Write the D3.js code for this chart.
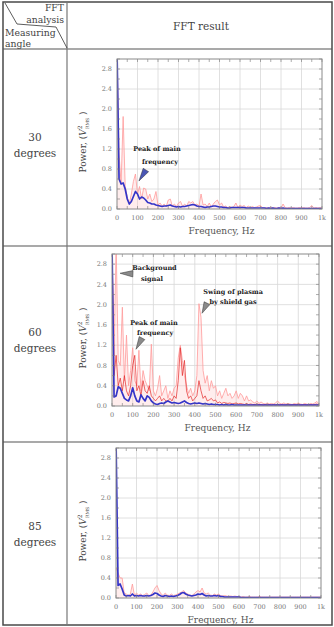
<!DOCTYPE html>
<html>
<head>
<meta charset="utf-8">
<script src="https://cdn.jsdelivr.net/npm/d3@7"></script>
<style>
  body { margin: 0; background: #fff; }
  svg { display: block; }
</style>
</head>
<body>
<div id="chart"></div>
<script>
// frequency bins, Hz
const freqHz = [0,10,20,30,40,50,60,70,80,90,
  100,110,120,130,140,150,160,170,180,190,
  200,210,220,230,240,250,260,270,280,290,
  300,310,320,330,340,350,360,370,380,390,
  400,410,420,430,440,450,460,470,480,490,
  500,510,520,530,540,550,560,570,580,590,
  600,610,620,630,640,650,660,670,680,690,
  700,710,720,730,740,750,760,770,780,790,
  800,810,820,830,840,850,860,870,880,890,
  900,910,920,930,940,950,960,970,980,990,
  1000]

const yTicks = [0, 0.4, 0.8, 1.2, 1.6, 2.0, 2.4, 2.8]
const xTicks = [0, 100, 200, 300, 400, 500, 600, 700, 800, 900, 1000]
const xTickLabels = ['0','100','200','300','400','500','600','700','800','900','1k']
const angleLabels = ['30', '60', '85']

// 30 degrees
const red30 = [3.2,1.1,0.5,1.85,0.45,0.25,0.1,0.3,0.55,0.7,
  0.3,0.45,0.2,0.42,0.4,0.2,0.3,0.15,0.2,0.35,
  0.08,0.12,0.06,0.1,0.05,0.18,0.2,0.06,0.1,0.05,
  0.12,0.15,0.05,0.1,0.06,0.15,0.12,0.15,0.08,0.1,
  0.06,0.3,0.08,0.1,0.05,0.12,0.04,0.1,0.15,0.18,
  0.08,0.12,0.04,0.06,0.03,0.05,0.03,0.05,0.12,0.03,
  0.08,0.05,0.07,0.03,0.06,0.03,0.05,0.03,0.04,0.06,
  0.07,0.03,0.02,0.03,0.02,0.04,0.02,0.03,0.02,0.03,
  0.02,0.1,0.03,0.02,0.03,0.02,0.03,0.02,0.02,0.03,
  0.02,0.03,0.02,0.02,0.03,0.07,0.02,0.03,0.02,0.03,
  0.02]
const blue30 = [3.2,0.6,0.5,0.52,0.4,0.2,0.1,0.15,0.25,0.35,
  0.3,0.2,0.24,0.22,0.18,0.13,0.12,0.1,0.1,0.08,
  0.07,0.06,0.05,0.06,0.06,0.07,0.08,0.06,0.05,0.04,
  0.05,0.04,0.05,0.05,0.06,0.07,0.08,0.09,0.08,0.06,
  0.05,0.05,0.04,0.03,0.04,0.04,0.05,0.06,0.06,0.05,
  0.04,0.04,0.03,0.03,0.02,0.02,0.03,0.03,0.03,0.03,
  0.03,0.03,0.03,0.02,0.02,0.02,0.02,0.02,0.02,0.02,
  0.02,0.02,0.02,0.01,0.02,0.01,0.02,0.01,0.01,0.02,
  0.01,0.02,0.01,0.01,0.01,0.01,0.01,0.01,0.01,0.01,
  0.01,0.01,0.01,0.01,0.01,0.01,0.01,0.01,0.01,0.01,
  0.01]

// 60 degrees
const red60 = [3.2,1.0,3.2,0.9,0.8,1.95,0.5,1.4,0.4,0.7,
  1.15,0.5,0.4,1.1,0.3,0.7,0.5,0.4,0.3,1.22,
  0.3,0.2,0.35,0.6,0.2,0.3,0.4,0.15,0.3,0.2,
  0.35,0.4,0.95,1.2,0.9,0.6,0.4,0.25,0.35,0.2,
  0.3,0.6,2.02,1.75,0.7,0.45,0.6,0.3,0.5,0.35,
  0.4,0.2,0.3,0.15,0.25,0.35,0.2,0.25,0.15,0.2,
  0.3,0.15,0.25,0.2,0.1,0.2,0.1,0.12,0.08,0.06,
  0.1,0.05,0.08,0.05,0.04,0.06,0.04,0.05,0.04,0.06,
  0.1,0.05,0.04,0.06,0.04,0.05,0.04,0.03,0.05,0.04,
  0.06,0.04,0.03,0.05,0.04,0.03,0.05,0.04,0.06,0.09,
  0.04]
const red60dark = [3.2,0.6,1.0,0.4,0.55,0.3,0.6,0.3,0.2,0.4,
  0.8,1.0,0.3,0.4,0.2,0.5,0.3,0.25,0.4,0.2,
  0.15,0.1,0.15,0.2,0.1,0.15,0.1,0.1,0.15,0.1,
  0.2,0.15,0.5,1.15,0.6,0.9,0.3,0.15,0.2,0.1,
  0.15,0.2,0.5,0.3,0.15,0.2,0.1,0.12,0.15,0.1,
  0.12,0.06,0.08,0.05,0.07,0.06,0.05,0.06,0.04,0.05,
  0.06,0.04,0.05,0.04,0.03,0.05,0.03,0.04,0.03,0.03,
  0.04,0.03,0.03,0.02,0.03,0.02,0.03,0.02,0.03,0.02,
  0.03,0.02,0.03,0.02,0.02,0.03,0.02,0.02,0.03,0.02,
  0.03,0.02,0.02,0.03,0.02,0.02,0.03,0.02,0.03,0.04,
  0.02]
const blue60 = [3.2,0.18,0.2,0.38,0.35,0.25,0.15,0.12,0.1,0.2,
  0.36,0.2,0.1,0.08,0.22,0.15,0.1,0.2,0.17,0.1,
  0.06,0.04,0.03,0.05,0.06,0.05,0.08,0.1,0.08,0.06,
  0.07,0.06,0.05,0.06,0.08,0.1,0.07,0.05,0.04,0.05,
  0.06,0.05,0.06,0.05,0.04,0.05,0.04,0.03,0.04,0.03,
  0.03,0.03,0.02,0.03,0.02,0.03,0.02,0.02,0.03,0.02,
  0.02,0.02,0.02,0.02,0.02,0.02,0.02,0.02,0.02,0.02,
  0.02,0.02,0.02,0.02,0.02,0.02,0.02,0.02,0.02,0.02,
  0.02,0.02,0.02,0.02,0.02,0.02,0.02,0.02,0.02,0.02,
  0.02,0.02,0.02,0.02,0.02,0.02,0.02,0.02,0.02,0.02,
  0.02]

// 85 degrees
const red85 = [0.6,0.5,0.4,0.4,0.1,0.08,0.05,0.08,0.28,0.05,
  0.1,0.06,0.08,0.05,0.07,0.1,0.05,0.06,0.12,0.2,
  0.25,0.15,0.08,0.05,0.1,0.06,0.05,0.08,0.05,0.06,
  0.08,0.1,0.12,0.15,0.1,0.08,0.06,0.05,0.08,0.12,
  0.15,0.12,0.2,0.1,0.08,0.1,0.06,0.05,0.08,0.06,
  0.08,0.05,0.04,0.05,0.04,0.03,0.04,0.03,0.04,0.03,
  0.03,0.02,0.03,0.02,0.02,0.03,0.02,0.02,0.02,0.02,
  0.03,0.02,0.02,0.02,0.02,0.02,0.02,0.02,0.02,0.02,
  0.02,0.02,0.02,0.02,0.02,0.02,0.02,0.02,0.02,0.02,
  0.02,0.02,0.02,0.02,0.02,0.02,0.02,0.02,0.02,0.02,
  0.02]
const blue85 = [3.2,0.25,0.28,0.18,0.06,0.04,0.05,0.04,0.08,0.04,
  0.05,0.04,0.05,0.04,0.04,0.05,0.04,0.05,0.07,0.1,
  0.09,0.06,0.04,0.03,0.05,0.04,0.03,0.04,0.03,0.04,
  0.05,0.07,0.1,0.11,0.08,0.06,0.05,0.04,0.05,0.06,
  0.08,0.07,0.09,0.06,0.04,0.05,0.04,0.04,0.05,0.04,
  0.05,0.03,0.03,0.02,0.02,0.02,0.02,0.02,0.02,0.02,
  0.02,0.01,0.01,0.01,0.01,0.01,0.01,0.01,0.01,0.01,
  0.01,0.01,0.01,0.01,0.01,0.01,0.01,0.01,0.01,0.01,
  0.01,0.01,0.01,0.01,0.01,0.01,0.01,0.01,0.01,0.01,
  0.01,0.01,0.01,0.01,0.01,0.01,0.01,0.01,0.01,0.01,
  0.01]

// callouts, in data units (Hz, power)
const notes30 = [
  {lines: ['Peak of main', 'frequency'], at: [[195, 1.2], [210, 0.94]], tip: [107, 0.56], base: [141, 0.78], fill: '#4a56b4'}
]
const notes60 = [
  {lines: ['Background', 'signal'], at: [[205, 2.72], [193, 2.52]], tip: [39, 2.62], base: [101, 2.61], fill: '#8a8a8a'},
  {lines: ['Peak of main', 'frequency'], at: [[203, 1.64], [208, 1.44]], tip: [116, 1.12], base: [145, 1.34], fill: '#8a8a8a'},
  {lines: ['Swing of plasma', 'by shield gas'], at: [[585, 2.25], [585, 2.05]], tip: [435, 1.83], base: [459, 2.03], fill: '#8a8a8a'}
]

const serif = '"DejaVu Serif", "Liberation Serif", serif'
const w = 334, h = 627

const svg = d3.select('#chart')
              .append('svg')
              .attr('width', w)
              .attr('height', h)
              .attr('font-family', serif)

// ---- table frame ----
const table = svg.append('g')
table.append('rect')
     .attr('x', 3).attr('y', 2)
     .attr('width', 329).attr('height', 623)
     .attr('fill', 'none')
     .attr('stroke', '#4a4a4a')
     .attr('stroke-width', 1.5)

const hLines = [49, 246, 442]
hLines.forEach(y => {
  table.append('line')
       .attr('x1', 3).attr('x2', 332)
       .attr('y1', y).attr('y2', y)
       .attr('stroke', '#555').attr('stroke-width', 1.2)
})
table.append('line')
     .attr('x1', 67).attr('x2', 67)
     .attr('y1', 2).attr('y2', 625)
     .attr('stroke', '#777').attr('stroke-width', 1.2)

// diagonal header cell
table.append('polyline')
     .attr('points', '5,3 17,24 56,27 67,48')
     .attr('fill', 'none')
     .attr('stroke', '#333')
     .attr('stroke-width', 0.8)

const headTxt = [
  {t: 'FFT', x: 64, y: 11, anchor: 'end'},
  {t: 'analysis', x: 64, y: 23, anchor: 'end'},
  {t: 'Measuring', x: 5, y: 36, anchor: 'start'},
  {t: 'angle', x: 5, y: 47, anchor: 'start'}
]
headTxt.forEach(d => {
  table.append('text')
       .attr('x', d.x).attr('y', d.y)
       .attr('text-anchor', d.anchor)
       .attr('font-size', 9.3)
       .attr('fill', '#444')
       .text(d.t)
})
table.append('text')
     .attr('x', 201).attr('y', 30)
     .attr('text-anchor', 'middle')
     .attr('font-size', 10.5)
     .attr('fill', '#444')
     .text('FFT result')

// ---- panels ----
const panels = [
  {angle: angleLabels[0], series: [{v: red30, kind: 'light'}, {v: blue30, kind: 'blue'}], box: [117, 322, 59, 209], mid: 145, notes: notes30},
  {angle: angleLabels[1], series: [{v: red60, kind: 'light'}, {v: red60dark, kind: 'dark'}, {v: blue60, kind: 'blue'}], box: [112, 319, 254, 406], mid: 340, notes: notes60},
  {angle: angleLabels[2], series: [{v: red85, kind: 'light'}, {v: blue85, kind: 'blue'}], box: [116, 321, 448, 598], mid: 534, notes: []}
]

const styles = {
  light: {stroke: '#ff9a9a', width: 0.8},
  dark: {stroke: '#e42828', width: 0.7},
  blue: {stroke: '#3535c8', width: 1.7}
}

panels.forEach((p, i) => {
  const [x0, x1, y0, y1] = p.box
  const xScale = d3.scaleLinear().domain([0, 1000]).range([x0, x1])
  const yScale = d3.scaleLinear().domain([0, 3.0]).range([y1, y0])

  // row label
  table.append('text')
       .attr('x', 35).attr('y', p.mid - 4)
       .attr('text-anchor', 'middle')
       .attr('font-size', 10.5)
       .attr('fill', '#444')
       .text(p.angle)
  table.append('text')
       .attr('x', 35).attr('y', p.mid + 12)
       .attr('text-anchor', 'middle')
       .attr('font-size', 10.5)
       .attr('fill', '#444')
       .text('degrees')

  const g = svg.append('g')

  // grid
  g.selectAll('.vgrid')
   .data(xTicks.slice(1, -1))
   .enter().append('line')
   .attr('x1', d => xScale(d)).attr('x2', d => xScale(d))
   .attr('y1', y0).attr('y2', y1)
   .attr('stroke', '#d8d8d8').attr('stroke-width', 0.8)
  g.selectAll('.hgrid')
   .data(yTicks.slice(1))
   .enter().append('line')
   .attr('x1', x0).attr('x2', x1)
   .attr('y1', d => yScale(d)).attr('y2', d => yScale(d))
   .attr('stroke', '#d8d8d8').attr('stroke-width', 0.8)

  // clip
  const clipId = 'clip' + i
  svg.append('clipPath').attr('id', clipId)
     .append('rect')
     .attr('x', x0).attr('y', y0)
     .attr('width', x1 - x0).attr('height', y1 - y0)

  const plot = g.append('g').attr('clip-path', 'url(#' + clipId + ')')

  const area = d3.area()
                 .x((d, j) => xScale(freqHz[j]))
                 .y0(yScale(0))
                 .y1(d => yScale(d))
  const line = d3.line()
                 .x((d, j) => xScale(freqHz[j]))
                 .y(d => yScale(d))

  p.series.forEach(s => {
    if (s.kind === 'light') {
      plot.append('path')
          .attr('d', area(s.v))
          .attr('fill', '#ffc4c4')
          .attr('opacity', 0.3)
    }
    plot.append('path')
        .attr('d', line(s.v))
        .attr('fill', 'none')
        .attr('stroke', styles[s.kind].stroke)
        .attr('stroke-width', styles[s.kind].width)
        .attr('stroke-linejoin', 'round')
  })

  // minor ticks, inward on all four sides
  const xMinor = xTicks.flatMap(d => d < 1000 ? [d, d + 50] : [d])
  const yMinor = yTicks.flatMap(d => [d, d + 0.2])
  xMinor.forEach(d => {
    g.append('line').attr('x1', xScale(d)).attr('x2', xScale(d))
     .attr('y1', y1).attr('y2', y1 - 3).attr('stroke', '#777').attr('stroke-width', 0.6)
    g.append('line').attr('x1', xScale(d)).attr('x2', xScale(d))
     .attr('y1', y0).attr('y2', y0 + 3).attr('stroke', '#777').attr('stroke-width', 0.6)
  })
  yMinor.forEach(d => {
    g.append('line').attr('x1', x0).attr('x2', x0 + 3)
     .attr('y1', yScale(d)).attr('y2', yScale(d)).attr('stroke', '#777').attr('stroke-width', 0.6)
    g.append('line').attr('x1', x1).attr('x2', x1 - 3)
     .attr('y1', yScale(d)).attr('y2', yScale(d)).attr('stroke', '#777').attr('stroke-width', 0.6)
  })

  // frame
  g.append('rect')
   .attr('x', x0).attr('y', y0)
   .attr('width', x1 - x0).attr('height', y1 - y0)
   .attr('fill', 'none')
   .attr('stroke', '#8a8a8a')
   .attr('stroke-width', 1)

  // tick labels
  g.selectAll('.ylab')
   .data(yTicks)
   .enter().append('text')
   .attr('x', x0 - 5)
   .attr('y', d => yScale(d))
   .attr('dy', '0.35em')
   .attr('text-anchor', 'end')
   .attr('font-size', 6.5)
   .attr('fill', '#777')
   .text(d => d.toFixed(1))
  g.selectAll('.xlab')
   .data(xTicks)
   .enter().append('text')
   .attr('x', d => xScale(d))
   .attr('y', y1 + 11)
   .attr('text-anchor', 'middle')
   .attr('font-size', 6.5)
   .attr('fill', '#777')
   .text((d, j) => xTickLabels[j])

  // axis titles
  g.append('text')
   .attr('x', (x0 + x1) / 2 + 2)
   .attr('y', y1 + 25)
   .attr('text-anchor', 'middle')
   .attr('font-size', 9)
   .attr('fill', '#555')
   .text('Frequency, Hz')

  const yt = g.append('text')
              .attr('transform', 'translate(86,' + ((y0 + y1) / 2 + 8) + ') rotate(-90)')
              .attr('text-anchor', 'middle')
              .attr('font-size', 9)
              .attr('fill', '#444')
  yt.append('tspan').text('Power,  (')
  yt.append('tspan').attr('font-style', 'italic').text('V')
  yt.append('tspan').attr('font-size', 6).attr('dy', -4).text('2')
  yt.append('tspan').attr('font-size', 4.5).attr('dx', -3.5).attr('dy', 7).text('RMS')
  yt.append('tspan').attr('dy', -3).text(' )')

  // callouts
  p.notes.forEach(n => {
    n.lines.forEach((t, k) => {
      g.append('text')
       .attr('x', xScale(n.at[k][0]))
       .attr('y', yScale(n.at[k][1]))
       .attr('dy', '0.35em')
       .attr('text-anchor', 'middle')
       .attr('font-size', 6.5)
       .attr('font-weight', 'bold')
       .attr('fill', '#222')
       .text(t)
    })
    const tx = xScale(n.tip[0]), ty = yScale(n.tip[1])
    const bx = xScale(n.base[0]), by = yScale(n.base[1])
    const len = Math.hypot(bx - tx, by - ty)
    const nx = -(by - ty) / len * 3.2, ny = (bx - tx) / len * 3.2
    g.append('path')
     .attr('d', 'M' + tx + ',' + ty + 'L' + (bx + nx) + ',' + (by + ny) + 'L' + (bx - nx) + ',' + (by - ny) + 'Z')
     .attr('fill', n.fill)
     .attr('stroke', '#333')
     .attr('stroke-width', 0.5)
  })
})
</script>
</body>
</html>
